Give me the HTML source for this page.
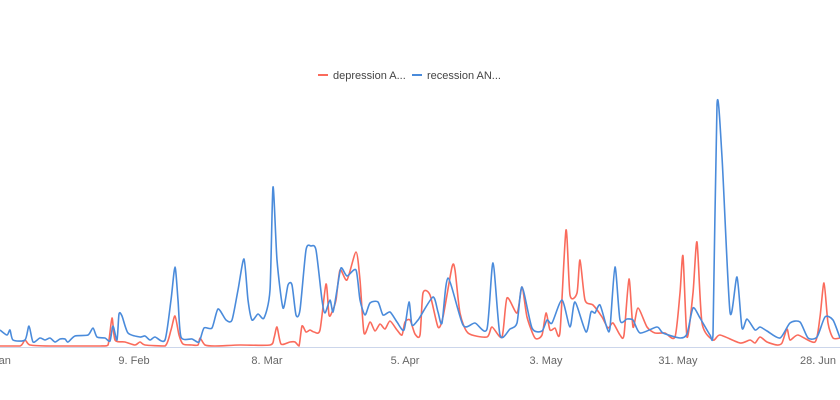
<!DOCTYPE html>
<html><head><meta charset="utf-8"><style>
html,body{margin:0;padding:0;background:#fff;width:840px;height:400px;overflow:hidden}
svg{display:block;font-family:"Liberation Sans",sans-serif}
</style></head><body>
<svg id="s" width="840" height="400" viewBox="0 0 840 400">
<line x1="0" y1="347.5" x2="840" y2="347.5" stroke="#ccd6eb" stroke-width="1"/>
<g font-size="11" fill="#666" text-anchor="middle">
<text x="2" y="364">Jan</text>
<text x="134" y="364">9. Feb</text>
<text x="267" y="364">8. Mar</text>
<text x="405" y="364">5. Apr</text>
<text x="546" y="364">3. May</text>
<text x="678" y="364">31. May</text>
<text x="818" y="364">28. Jun</text>
</g>
<g font-size="11" fill="#444">
<line x1="318" y1="75" x2="328" y2="75" stroke="#fa6b5c" stroke-width="2"/>
<text x="333" y="79">depression A...</text>
<line x1="412" y1="75" x2="422" y2="75" stroke="#4a8bdb" stroke-width="2"/>
<text x="427" y="79">recession AN...</text>
</g>
<path id="red" fill="none" stroke="#fa6b5c" stroke-width="1.6" stroke-linejoin="round"/>
<path id="blue" fill="none" stroke="#4a8bdb" stroke-width="1.6" stroke-linejoin="round"/>
</svg>
<script>
var blue=[[0,330],[7,335],[10,330],[13,340],[25,340],[29,326],[33,342],[40,338],[45,340],[50,338],[55,342],[60,339],[65,339],[68,342],[75,336],[88,335],[93,328],[97,337],[105,338],[110,341],[113,326],[117,340],[119,314],[122,316],[128,333],[140,337],[145,336],[150,340],[155,337],[165,340],[171,300],[175,267],[178,300],[181,337],[192,339],[199,342],[204,328],[212,328],[218,309],[226,320],[232,320],[238,290],[244,259],[248,300],[252,320],[258,314],[264,318],[270,290],[273,187],[277,260],[283,308],[288,285],[292,285],[296,315],[300,310],[306,250],[311,246],[316,250],[322,300],[325,313],[330,300],[333,312],[337,290],[341,268],[347,276],[356,270],[360,300],[365,315],[370,303],[378,302],[383,315],[390,312],[397,322],[404,330],[409,302],[412,325],[418,320],[420,317],[433,297],[438,312],[442,323],[448,278],[463,325],[475,323],[487,329],[493,263],[500,335],[510,329],[517,323],[522,287],[532,328],[542,331],[547,320],[552,323],[562,300],[570,327],[575,302],[586,332],[591,312],[595,313],[600,305],[607,328],[610,328],[615,267],[620,320],[627,319],[633,320],[640,333],[657,327],[663,333],[680,338],[687,334],[693,308],[700,318],[710,335],[713,335],[717,105],[722,157],[730,312],[737,277],[742,328],[747,319],[755,330],[760,327],[767,331],[780,338],[790,323],[800,322],[808,338],[817,337],[825,317],[833,320],[840,338]];
var red=[[0,346],[20,346],[25,340],[30,345],[50,346],[100,346],[108,345],[112,318],[115,340],[125,342],[135,345],[140,342],[145,345],[165,346],[171,330],[175,316],[179,335],[183,344],[192,345],[198,345],[200,338],[205,345],[215,346],[240,345],[270,345],[274,338],[277,327],[281,344],[290,342],[295,342],[299,346],[302,326],[306,332],[310,330],[314,332],[320,330],[326,284],[329,315],[332,312],[336,300],[340,270],[347,280],[356,252],[360,280],[364,333],[370,322],[375,331],[380,324],[385,329],[390,321],[397,330],[402,335],[405,322],[410,320],[415,334],[420,335],[423,293],[430,295],[438,327],[443,317],[452,267],[455,270],[460,313],[468,333],[487,337],[492,327],[502,337],[507,298],[517,313],[522,287],[527,317],[535,338],[542,335],[546,313],[550,330],[555,328],[560,332],[566,230],[570,295],[577,293],[580,260],[585,300],[593,305],[602,317],[608,328],[613,323],[620,335],[624,335],[629,279],[633,327],[638,308],[647,327],[655,333],[665,333],[675,337],[680,293],[683,256],[687,337],[693,293],[697,242],[702,323],[713,340],[720,335],[740,343],[750,340],[755,343],[760,337],[767,342],[777,345],[782,343],[787,329],[790,340],[798,335],[815,342],[820,317],[824,283],[828,323],[833,338],[840,338]];
function cl(v){return Math.min(346,v);}
function sm(p){var d="M"+p[0][0]+","+p[0][1];for(var i=0;i<p.length-1;i++){var a=p[i-1]||p[i],b=p[i],c=p[i+1],e=p[i+2]||c;var t=0.12;d+=" C"+(b[0]+(c[0]-a[0])*t)+","+cl(b[1]+(c[1]-a[1])*t)+" "+(c[0]-(e[0]-b[0])*t)+","+cl(c[1]-(e[1]-b[1])*t)+" "+c[0]+","+c[1];}return d;}
document.getElementById("red").setAttribute("d",sm(red));
document.getElementById("blue").setAttribute("d",sm(blue));
</script>
</body></html>
